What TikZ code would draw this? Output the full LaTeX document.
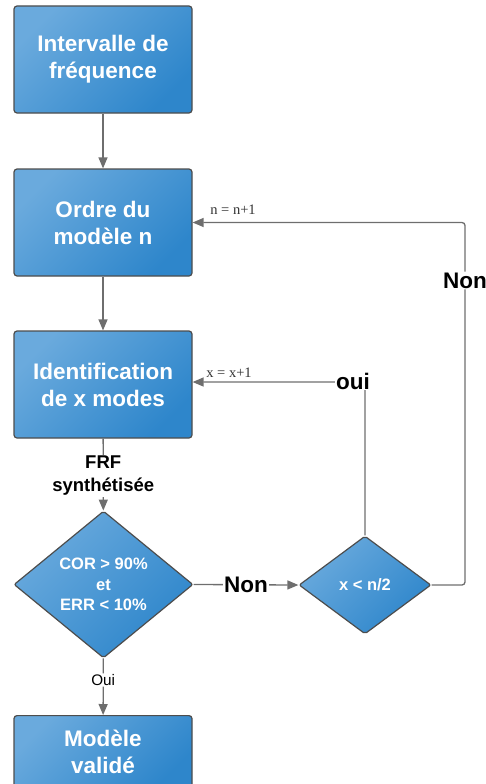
\documentclass[tikz,border=0pt]{standalone}
\usepackage{fontspec}
\setmainfont{Liberation Sans}
\newfontfamily\serifont{Liberation Serif}
\usetikzlibrary{shapes.geometric,arrows.meta}
\definecolor{bluelight}{HTML}{6AAADD}
\definecolor{bluedark}{HTML}{2E86CB}
\definecolor{edgegray}{HTML}{4D4D4D}
\definecolor{linegray}{HTML}{6E6E6E}
\tikzset{
  x=1pt,y=-1pt,
  boxstyle/.style={draw=edgegray,line width=1.2pt,rounded corners=3pt,
    left color=bluelight,right color=bluedark,shading angle=45,
    minimum width=178pt,minimum height=107pt,inner sep=0pt,
    text=white,font=\bfseries\fontsize{22.5}{27}\selectfont,align=center},
  diamstyle/.style={diamond,draw=edgegray,line width=1.2pt,rounded corners=2pt,
    left color=bluelight,right color=bluedark,shading angle=45,inner sep=0pt,
    text=white,font=\bfseries\fontsize{16.5}{20.5}\selectfont,align=center},
  conn/.style={draw=linegray,line width=1.3pt,-{Triangle[length=11pt,width=9pt]},rounded corners=3pt},
  lbl/.style={fill=white,inner sep=1pt,font=\bfseries\fontsize{22.5}{26}\selectfont,text=black},
  smalllbl/.style={font=\serifont\fontsize{14.5}{16}\selectfont,text=black!80},
}
\begin{document}
\begin{tikzpicture}
\useasboundingbox (0,0) rectangle (486,784);
\node[boxstyle] (b1) at (103,59.5) {Intervalle de\\fréquence};
\node[boxstyle] (b2) at (103,222.5) {Ordre du\\modèle n};
\node[boxstyle] (b3) at (103,384.5) {Identification\\de x modes};
\node[diamstyle,minimum width=179pt,minimum height=147pt] (d1) at (103.5,584.5) {COR > 90\%\\et\\ERR < 10\%};
\node[diamstyle,minimum width=132pt,minimum height=98pt] (d2) at (365,585) {x < n/2};
\node[boxstyle,anchor=north,minimum height=72pt] (b4) at (103,715) {Modèle\\validé};
\draw[conn] (b1) -- (b2);
\draw[conn] (b2) -- (b3);
\draw[conn] (b3) -- (d1) node[pos=0.52,fill=white,inner sep=1pt,align=center,font=\bfseries\fontsize{18.5}{23}\selectfont] {FRF\\synthétisée};
\draw[conn] (d1) -- (b4) node[pos=0.38,fill=white,inner sep=1pt,font=\fontsize{15.3}{17}\selectfont] {Oui};
\draw[conn] (d1.east) -- (d2.west) node[pos=0.5,lbl] {Non};
\coordinate (c1) at (465,585);
\coordinate (c2) at (465,222.5);
\draw[conn] (d2.east) -- (c1) -- (c2) node[pos=0.84,lbl] {Non} -- (b2.east);
\coordinate (c3) at (365,382);
\draw[conn] (d2.north) -- (c3) -- (b3.east |- c3);
\node[lbl] at (353,381) {oui};
\node[smalllbl] at (233,210) {n = n+1};
\node[smalllbl] at (229,373) {x = x+1};
\end{tikzpicture}
\end{document}
